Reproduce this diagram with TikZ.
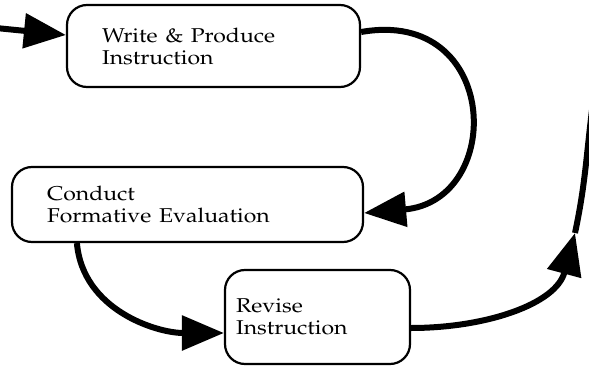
\documentclass[tikz,border=0pt]{standalone}
\usepackage[T1]{fontenc}
\usepackage{mathpazo}
\usepackage{graphicx}
\usetikzlibrary{arrows.meta}

\newcommand{\widetxt}[1]{\scalebox{1.15}[1]{#1}}

\begin{document}
\begin{tikzpicture}[x=1pt,y=1pt,
    stage/.style={draw, line width=2.2pt, rounded corners=20pt, align=left,
        inner ysep=0pt, font=\fontsize{20}{22}\selectfont},
    flow/.style={line width=6pt, -{Triangle[length=42pt,width=34pt]}}]

    % Frame
    \useasboundingbox (0,0) rectangle (589,365);

    % Boxes
    \node[stage, text width=223pt, inner xsep=35pt, minimum height=82pt] (write) at (213.5,319) {\widetxt{Write \& Produce}\\\widetxt{Instruction}};
    \node[stage, text width=281pt, inner xsep=35pt, minimum height=75pt] (eval) at (187.5,160.5) {\widetxt{Conduct}\\\widetxt{Formative Evaluation}};
    \node[stage, text width=163pt, inner xsep=11pt, minimum height=94pt] (rev) at (317.5,48) {\widetxt{Revise}\\\widetxt{Instruction}};

    % Loose ends
    \coordinate (start) at (-4,337);
    \coordinate (up) at (575,132);
    \coordinate (exit) at (592,255);

    % Arrows
    \draw[flow] (start) -- ([yshift=11pt]write.west);
    \draw[flow] ([yshift=14pt]write.east) to[out=10,in=5,looseness=2.0] ([yshift=-8.5pt]eval.east);
    \draw[flow] ([xshift=66pt]eval.south west) to[out=-85,in=180] ([yshift=-16pt]rev.west);
    \draw[flow] ([yshift=-11pt]rev.east) to[out=0,in=-105] (up);
    \draw[line width=6pt] (up) to[out=78,in=-97] (exit);

\end{tikzpicture}
\end{document}
